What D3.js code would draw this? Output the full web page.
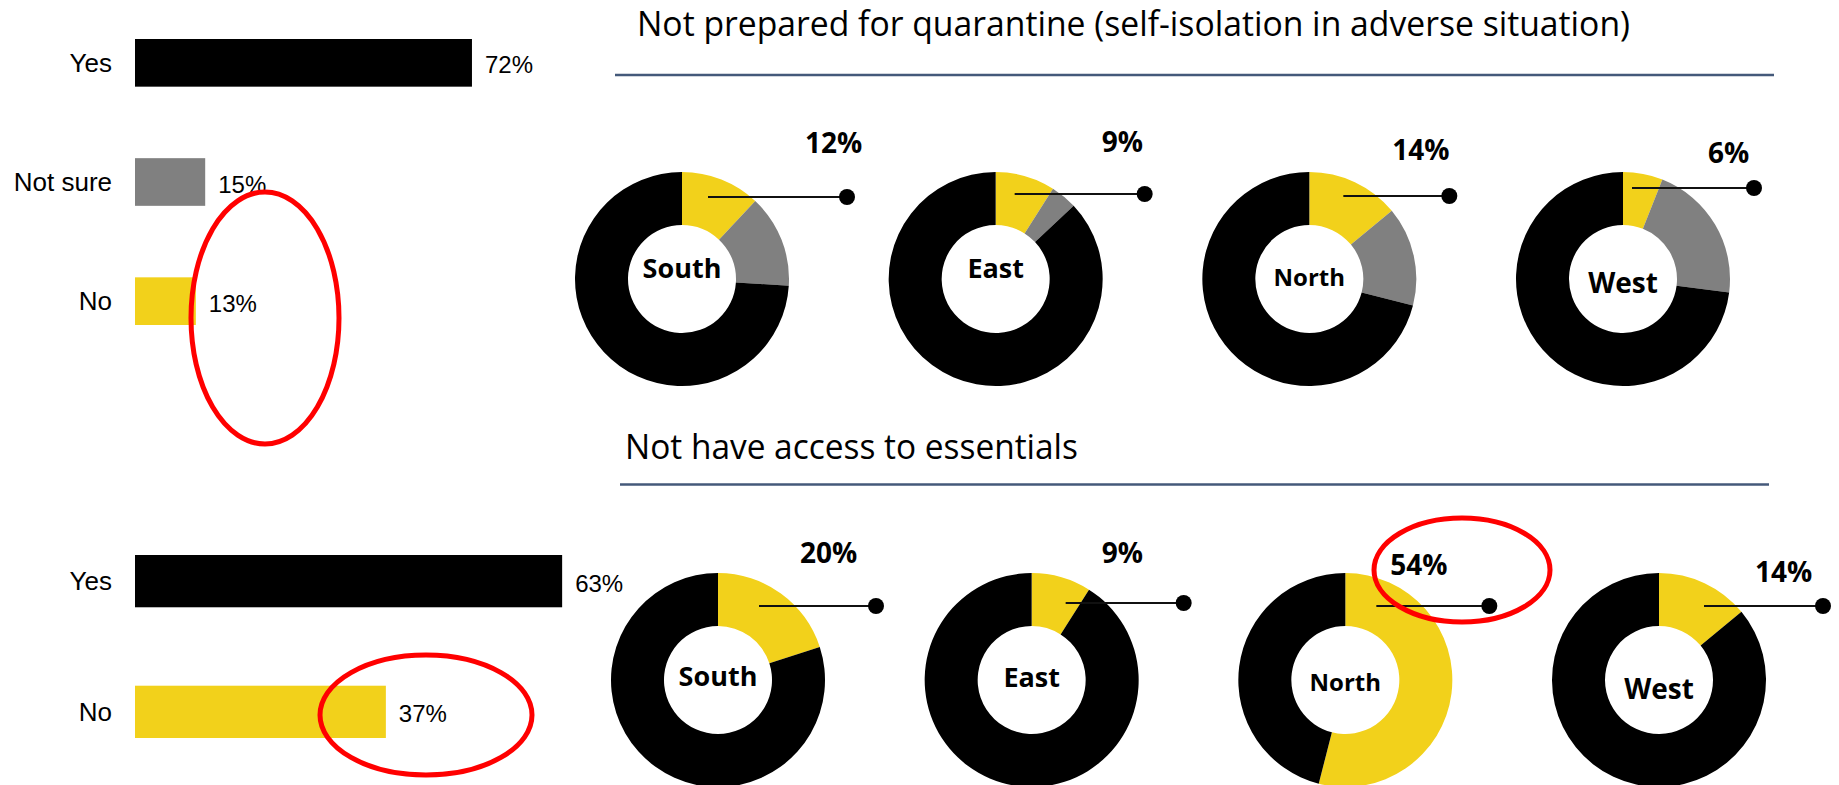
<!DOCTYPE html>
<html>
<head>
<meta charset="utf-8">
<script src="https://cdn.jsdelivr.net/npm/d3@7"></script>
<style>
  html, body { margin: 0; padding: 0; background: #fff; }
  svg { display: block; }
</style>
</head>
<body>
<svg id="chart" width="1839" height="785"></svg>
<script>
// ---- Data ----
const prepCategories = ["Yes", "Not sure", "No"];
const prepValues = [72, 15, 13];

const accessCategories = ["Yes", "No"];
const accessValues = [63, 37];

const regions = ["South", "East", "North", "West"];

// Not prepared for quarantine: share answering No / Not sure / Yes per region
const quarantineNo = [12, 9, 14, 6];
const quarantineNotSure = [14, 4, 15, 21];
const quarantineYes = [74, 87, 71, 73];

// Not have access to essentials: No / Yes per region
const essentialsNo = [20, 9, 54, 14];
const essentialsYes = [80, 91, 46, 86];

const titles = [
  "Not prepared for quarantine (self-isolation in adverse situation)",
  "Not have access to essentials"
];

// ---- Styles ----
const YELLOW = "#f2d11b", GRAY = "#808080", BLACK = "#000000";
const RULE = "#44597a";
const catColor = { "Yes": BLACK, "Not sure": GRAY, "No": YELLOW };
const pct = d => d + "%";

const svg = d3.select("#chart");

// ---- Horizontal bar panels ----
const barPanels = [
  { cats: prepCategories, vals: prepValues, x0: 135, widthPer100: 468, y0: 39, y1: 325 },
  { cats: accessCategories, vals: accessValues, x0: 135, widthPer100: 678, y0: 555, y1: 738 }
];

barPanels.forEach(p => {
  const x = d3.scaleLinear().domain([0, 100]).range([p.x0, p.x0 + p.widthPer100]);
  const y = d3.scaleBand().domain(p.cats).range([p.y0, p.y1]).paddingInner(0.6).paddingOuter(0);
  const rows = p.cats.map((c, i) => ({ cat: c, val: p.vals[i] }));
  const g = svg.append("g");

  g.selectAll("rect").data(rows).join("rect")
    .attr("x", x(0))
    .attr("y", d => y(d.cat))
    .attr("width", d => x(d.val) - x(0))
    .attr("height", y.bandwidth())
    .attr("fill", d => catColor[d.cat]);

  g.selectAll("text.cat").data(rows).join("text")
    .attr("class", "cat")
    .attr("x", 112)
    .attr("y", d => y(d.cat) + y.bandwidth() / 2)
    .attr("text-anchor", "end")
    .attr("dominant-baseline", "central")
    .style("font", "26px 'Liberation Sans', Arial, sans-serif")
    .attr("fill", "#000")
    .text(d => d.cat);

  g.selectAll("text.val").data(rows).join("text")
    .attr("class", "val")
    .attr("x", d => x(d.val) + 13)
    .attr("y", d => y(d.cat) + y.bandwidth() / 2 + 2)
    .attr("dominant-baseline", "central")
    .style("font", "24px 'Liberation Sans', Arial, sans-serif")
    .attr("fill", "#000")
    .text(d => pct(d.val));
});

// ---- Section titles with rules ----
const titleLayout = [
  { x: 637, baseline: 36, width: 993, ruleY: 75, ruleX0: 615, ruleX1: 1774 },
  { x: 625, baseline: 459, width: 453, ruleY: 484.5, ruleX0: 620, ruleX1: 1769 }
];
titleLayout.forEach((t, i) => {
  svg.append("text")
    .attr("x", t.x).attr("y", t.baseline)
    .attr("textLength", t.width)
    .attr("lengthAdjust", "spacingAndGlyphs")
    .style("font", "34px 'Open Sans', 'Noto Sans', sans-serif")
    .attr("fill", "#000")
    .text(titles[i]);
  svg.append("line")
    .attr("x1", t.ruleX0).attr("x2", t.ruleX1)
    .attr("y1", t.ruleY).attr("y2", t.ruleY)
    .attr("stroke", RULE).attr("stroke-width", 2.5);
});

// ---- Donut rows ----
const arc = d3.arc().innerRadius(54).outerRadius(107);
const pie = d3.pie().sort(null).value(d => d.v);

const donutRows = [
  {
    cy: 279, cxRange: [682, 1623],
    series: [quarantineNo, quarantineNotSure, quarantineYes],
    colors: [YELLOW, GRAY, BLACK],
    // per-region callout geometry relative to the donut centre
    callout: [
      { lx: 123, ly: -126, ax: 26, bx: 165, ay: -82, ny: -12, fs: 27 },
      { lx: 106, ly: -127, ax: 19, bx: 149, ay: -85, ny: -12, fs: 27 },
      { lx: 83,  ly: -119, ax: 34, bx: 140, ay: -83, ny: -3,  fs: 24 },
      { lx: 85,  ly: -116, ax: 9,  bx: 131, ay: -91, ny: 3,   fs: 28 }
    ]
  },
  {
    cy: 680, cxRange: [718, 1659],
    series: [essentialsNo, essentialsYes],
    colors: [YELLOW, BLACK],
    callout: [
      { lx: 82, ly: -117, ax: 41, bx: 158, ay: -74, ny: -5, fs: 27 },
      { lx: 70, ly: -117, ax: 34, bx: 152, ay: -77, ny: -4, fs: 27 },
      { lx: 45, ly: -105, ax: 31, bx: 144, ay: -74, ny: 1,  fs: 24 },
      { lx: 96, ly: -98,  ax: 45, bx: 164, ay: -74, ny: 8,  fs: 28 }
    ]
  }
];

donutRows.forEach(row => {
  const cx = d3.scalePoint().domain(regions).range(row.cxRange);
  regions.forEach((region, i) => {
    const slices = row.series.map((s, k) => ({ v: s[i], color: row.colors[k] }));
    const c = row.callout[i];
    const g = svg.append("g").attr("transform", `translate(${cx(region)},${row.cy})`);

    g.selectAll("path").data(pie(slices)).join("path")
      .attr("d", arc)
      .attr("fill", d => d.data.color);

    g.append("text")
      .attr("x", 0).attr("y", c.ny)
      .attr("text-anchor", "middle")
      .attr("dominant-baseline", "central")
      .style("font", `700 ${c.fs}px 'Open Sans', 'Noto Sans', sans-serif`)
      .attr("fill", "#000")
      .text(region);

    g.append("line")
      .attr("x1", c.ax).attr("x2", c.bx)
      .attr("y1", c.ay).attr("y2", c.ay)
      .attr("stroke", "#111").attr("stroke-width", 2);
    g.append("circle")
      .attr("cx", c.bx).attr("cy", c.ay).attr("r", 8)
      .attr("fill", "#000");

    g.append("text")
      .attr("x", c.lx).attr("y", c.ly)
      .style("font", "700 28px 'Open Sans', 'Noto Sans', sans-serif")
      .attr("fill", "#000")
      .text(pct(row.series[0][i]));
  });
});

// ---- Red highlight ellipses ----
const highlights = [
  { cx: 265, cy: 318, rx: 74, ry: 126 },
  { cx: 426, cy: 715, rx: 106, ry: 60 },
  { cx: 1462, cy: 570, rx: 88, ry: 52 }
];
svg.selectAll("ellipse.hl").data(highlights).join("ellipse")
  .attr("class", "hl")
  .attr("cx", d => d.cx).attr("cy", d => d.cy)
  .attr("rx", d => d.rx).attr("ry", d => d.ry)
  .attr("fill", "none")
  .attr("stroke", "#ff0000")
  .attr("stroke-width", 5);
</script>
</body>
</html>
